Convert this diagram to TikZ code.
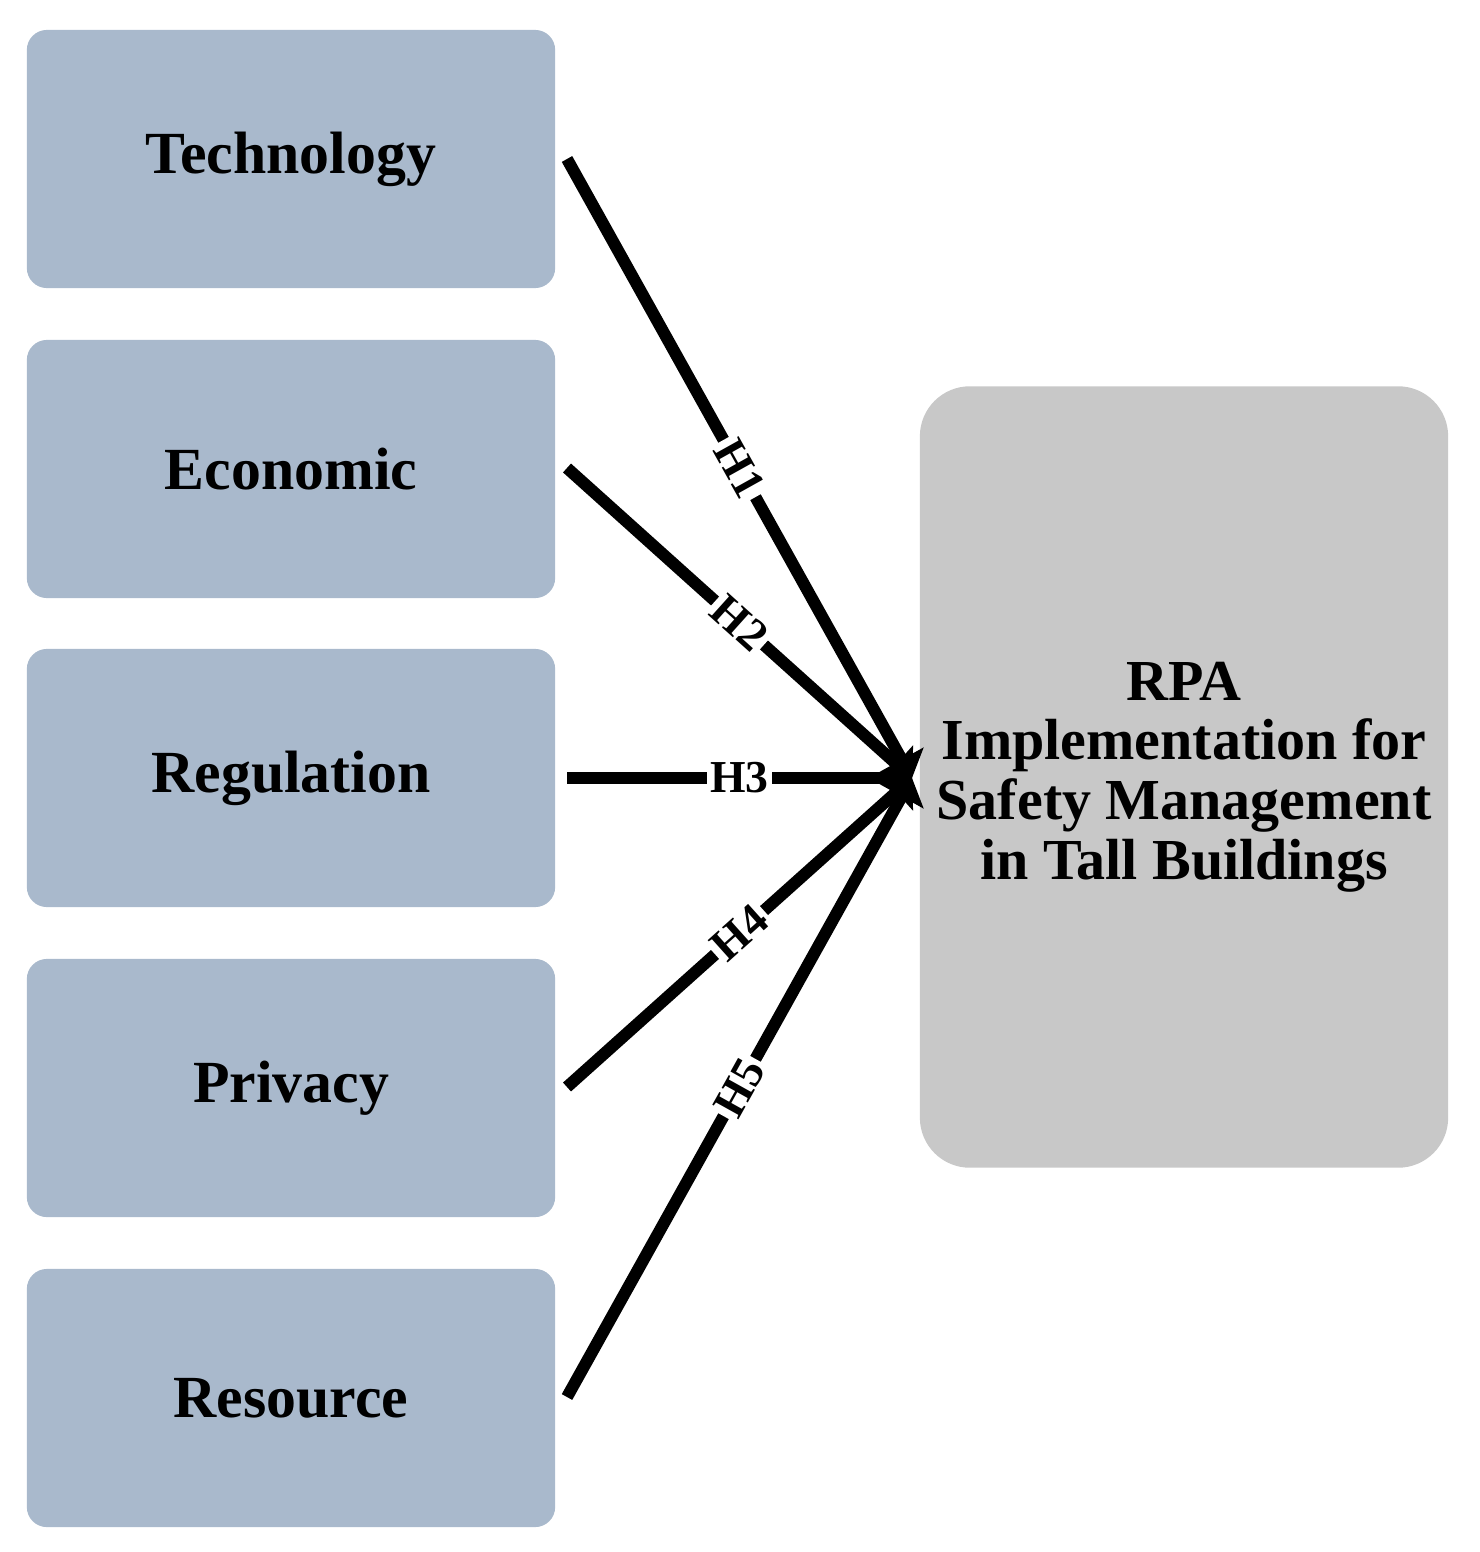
\documentclass[tikz,border=0pt]{standalone}
\usepackage{fontspec}
\setmainfont{Liberation Serif}
\usetikzlibrary{arrows.meta}
\definecolor{lbox}{HTML}{A9B9CC}
\definecolor{rbox}{HTML}{C8C8C8}
\begin{document}
\begin{tikzpicture}[x=0.01cm,y=-0.01cm,
  lb/.style={fill=lbox,rounded corners=0.2cm,minimum width=5.28cm,minimum height=2.58cm,font=\fontsize{17}{20}\selectfont\bfseries,inner sep=0},
  ar/.style={line width=3.4pt,-{Triangle[length=6pt,width=14pt]}},
  hl/.style={fill=white,inner sep=1pt,font=\fontsize{13}{14}\selectfont\bfseries,sloped,pos=0.5}]
\useasboundingbox (0,0) rectangle (1479,1552);
\node[lb] (t) at (291,159) {Technology};
\node[lb] (e) at (291,469) {Economic};
\node[lb] (g) at (291,778) {Regulation};
\node[lb] (p) at (291,1088) {Privacy};
\node[lb] (r) at (291,1398) {Resource};
\node[fill=rbox,rounded corners=0.5cm,minimum width=5.28cm,minimum height=7.81cm,align=center,font=\fontsize{16.5}{17}\selectfont\bfseries] (rpa) at (1184,777) {RPA\\Implementation for\\Safety Management\\in Tall Buildings};
\coordinate (tip) at (912,778);
\coordinate (s1) at (567,159);
\coordinate (s2) at (567,468);
\coordinate (s3) at (567,778);
\coordinate (s4) at (567,1087);
\coordinate (s5) at (567,1397);
\draw[ar] (s1) -- node[hl]{H1} (tip);
\draw[ar] (s2) -- node[hl]{H2} (tip);
\draw[ar] (s3) -- node[hl]{H3} (tip);
\draw[ar] (s4) -- node[hl]{H4} (tip);
\draw[ar] (s5) -- node[hl]{H5} (tip);
\end{tikzpicture}
\end{document}
